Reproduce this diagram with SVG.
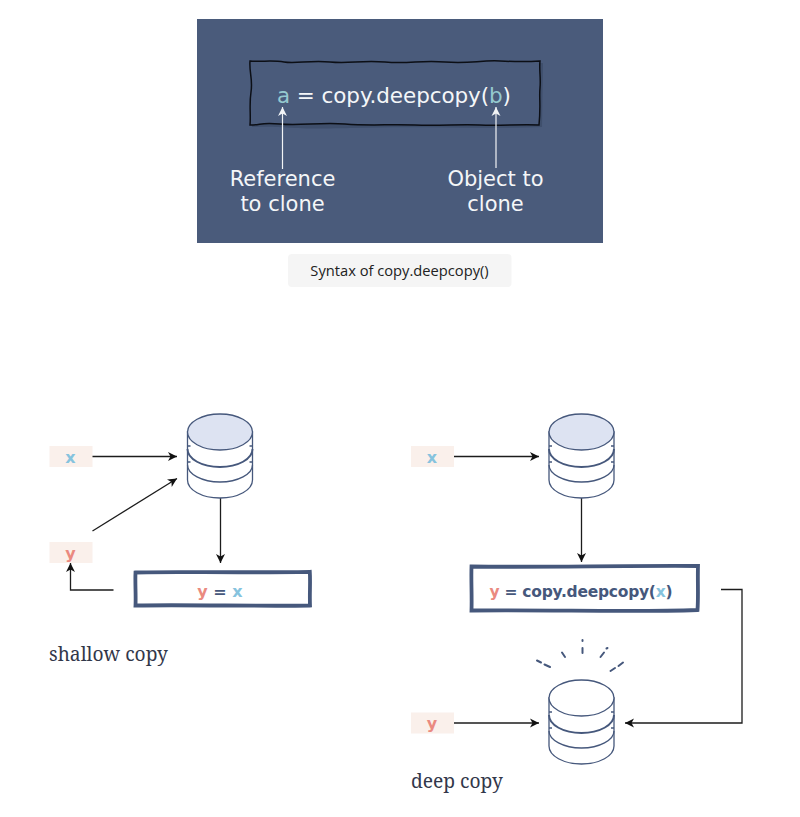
<svg xmlns="http://www.w3.org/2000/svg" width="800" height="817" viewBox="0 0 800 817">
<style>
.lbl{font-family:"DejaVu Sans","Liberation Sans",sans-serif;fill:#f4f6f8}
.cap{font-family:"Noto Serif","DejaVu Serif","Liberation Serif",serif;font-size:19.200px;fill:#32374a}
.code{font-family:"DejaVu Sans","Liberation Sans",sans-serif;font-weight:700;fill:#46587c}
.tag{font-family:"DejaVu Sans","Liberation Sans",sans-serif;font-weight:700;font-size:16px;text-anchor:middle}
.r{fill:#ea8a80}.b{fill:#86c3de}
.bg{fill:#faf0eb}
.cyl{fill:#fff;stroke:#46587c;stroke-width:1.300}
.top{fill:#dde3f2;stroke:#46587c;stroke-width:1.300}
.w{fill:none;stroke:#46587c;stroke-width:1.300}
.edge{fill:none;stroke:#1c1c1c;stroke-width:1.300}
.wedge{fill:none;stroke:#f2f4f6;stroke-width:1.200}
.spark{fill:none;stroke:#46587c;stroke-width:2;stroke-linecap:round}
.frame{fill:#fff;stroke:#46587c;stroke-width:3.800;stroke-linejoin:miter}
</style>
<defs>
<marker id="ah" markerUnits="userSpaceOnUse" markerWidth="12" markerHeight="12" refX="9" refY="5" orient="auto"><path d="M0 0.500L9 5L0 9.500L2.500 5Z" fill="#111"/></marker>
<marker id="wh" markerUnits="userSpaceOnUse" markerWidth="12" markerHeight="12" refX="9" refY="5" orient="auto"><path d="M0 0.500L9 5L0 9.500L2.500 5Z" fill="#f2f4f6"/></marker>
<g id="db">
<path class="cyl" d="M-32.500 0V48C-32.500 58 -18 66 0 66S32.500 58 32.500 48V0Z"/>
<path class="w" stroke-width="2" style="stroke-width:1.900" d="M-32.500 17C-32.500 27 -18 35 0 35S32.500 27 32.500 17"/>
<path class="w" d="M-32.500 33C-32.500 42 -18 50 0 50S32.500 42 32.500 33"/>
<path class="w" d="M-32.500 14h3M-32.500 30h3M32.500 14h-3M32.500 30h-3"/>
</g>
</defs>
<rect width="800" height="817" fill="#fff"/>
<g id="panel">
<rect x="197" y="19" width="406" height="224" fill="#4a5b7b"/>
<path d="M253 64C300 62 340 65 390 63S490 64 543 63L542 127C480 129 420 126 350 128S290 126 252 127Z" fill="#3f4f6c"/>
<path fill="#4a5b7b" stroke="#0c0f16" stroke-width="1.500" d="M250 61C262 62 272 60 284 62S310 60 330 62S360 60 385 62S420 60 445 62S480 60 500 61S525 62 540 61C539 70 541 78 540 88S541 105 539 125C520 124 500 126 480 125S440 126 415 125S370 126 345 124S300 126 280 124S262 125 250 125C251 115 249 105 251 92S249 72 250 61Z"/>
<text class="lbl" x="277" y="103" font-size="21.500" textLength="234" lengthAdjust="spacing" xml:space="preserve"><tspan fill="#95c9cf">a</tspan> = copy.deepcopy(<tspan fill="#95c9cf">b</tspan>)</text>
<path class="wedge" marker-end="url(#wh)" d="M282.500 169V107"/>
<path class="wedge" marker-end="url(#wh)" d="M496 168V107"/>
<text class="lbl" font-size="21" text-anchor="middle" x="282.500" y="185.500">Reference</text>
<text class="lbl" font-size="21" text-anchor="middle" x="282.500" y="211">to clone</text>
<text class="lbl" font-size="21" text-anchor="middle" x="495.500" y="185.500">Object to</text>
<text class="lbl" font-size="21" text-anchor="middle" x="495.500" y="211">clone</text>
</g>
<g id="syntax-caption">
<rect x="288" y="254" width="223.500" height="33" rx="4" fill="#f5f5f5"/>
<text x="399.500" y="276" text-anchor="middle" font-family="'Open Sans','Noto Sans',sans-serif" font-size="14.700" fill="#222">Syntax of copy.deepcopy()</text>
</g>
<g id="connectors">
<path class="edge" marker-end="url(#ah)" d="M92 456.500H177"/>
<path class="edge" marker-end="url(#ah)" d="M92.500 531L177 478.500"/>
<path class="edge" marker-end="url(#ah)" d="M220.500 498V563"/>
<path class="edge" marker-end="url(#ah)" d="M113.500 590H70.500V563"/>
<path class="edge" marker-end="url(#ah)" d="M454 456.500H539"/>
<path class="edge" marker-end="url(#ah)" d="M581.500 498V562"/>
<path class="edge" marker-end="url(#ah)" d="M721 589.500H742V723H625"/>
<path class="edge" marker-end="url(#ah)" d="M454 723H539"/>
</g>
<g id="x-left"><rect class="bg" x="49.500" y="446" width="43" height="21"/><text class="tag b" x="70.500" y="463">x</text></g>
<g id="y-left"><rect class="bg" x="49.500" y="542" width="43" height="21"/><text class="tag r" x="70.500" y="559">y</text></g>
<g id="x-right"><rect class="bg" x="411" y="446" width="43" height="21"/><text class="tag b" x="432" y="463">x</text></g>
<g id="y-right"><rect class="bg" x="411" y="712.500" width="43" height="21"/><text class="tag r" x="432" y="729">y</text></g>
<g id="db-left"><use href="#db" x="220" y="432"/><ellipse class="top" cx="220" cy="432" rx="32.500" ry="18"/></g>
<g id="db-right"><use href="#db" x="581.500" y="432"/><ellipse class="top" cx="581.500" cy="432" rx="32.500" ry="18"/></g>
<g id="db-copy"><use href="#db" x="581.500" y="698"/><ellipse class="cyl" cx="581.500" cy="698" rx="32.500" ry="18"/></g>
<g id="sparks">
<path class="spark" d="M537 660.500L541 662.500M544.500 664.500L550 667M562 652.500L565 657M582.500 640V641M582.500 648V653M600.500 657L604 652.500M606.500 648.500L607.500 648M610.500 671L615 668M618.500 666L623 662.500"/>
</g>
<g id="assign-shallow">
<path class="frame" d="M135.500 572.500C170 571.500 240 573 309.800 571.800C310.500 582 309.500 594 310 605.500C260 606.500 190 604.500 135.500 605.500C136 595 135 583 135.500 572.500Z"/>
<text class="code" font-size="16" text-anchor="middle" x="220" y="597" xml:space="preserve"><tspan class="r">y</tspan> = <tspan class="b">x</tspan></text>
</g>
<g id="assign-deep">
<path class="frame" d="M471.500 566.500C540 567.500 620 565.500 698 566C697.500 580 698.500 596 697.500 610C630 612.500 550 609.500 471.500 610.500C472 596 471 580 471.500 566.500Z"/>
<text class="code" font-size="15.500" x="489.500" y="597" textLength="183" xml:space="preserve"><tspan class="r">y</tspan> = copy.deepcopy(<tspan class="b">x</tspan>)</text>
</g>
<text class="cap" x="49" y="661">shallow copy</text>
<text class="cap" x="411" y="788">deep copy</text>
</svg>
